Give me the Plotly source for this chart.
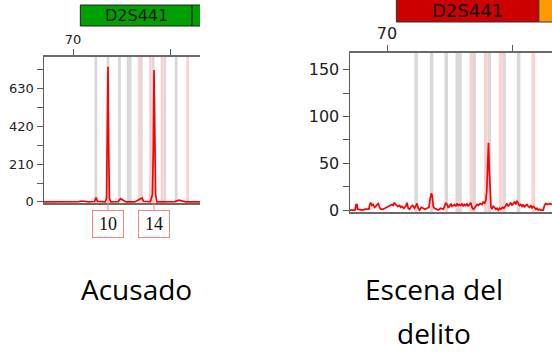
import plotly.graph_objects as go

# ---------------- data ----------------
marker_name = "D2S441"
x_ticks = [70, 80]
x_ticklabels = ["70", ""]

# suspect (Acusado) electropherogram: base pairs / RFU
acc_bp = [67.04, 70.0, 70.6, 70.9, 71.2, 71.6, 72.2, 72.35, 72.5, 73.3, 73.42, 73.5, 73.57, 73.64,
          73.72, 73.85, 74.6, 74.85, 75.1, 75.4, 76.3, 76.9, 77.05, 77.2, 77.9, 78.1, 78.2, 78.27,
          78.34, 78.43, 78.55, 80.4, 80.8, 81.1, 81.5, 82.96]
acc_rfu = [0, 0, 2, 5, 3, 0, 2, 25, 3, 0, 20, 300, 752, 300,
           20, 0, 2, 18, 8, 0, 0, 15, 22, 3, 2, 40, 300, 735,
           300, 40, 0, 2, 10, 5, 0, 0]
acc_alleles = ["10", "14"]
acc_allele_bp = [73.57, 78.27]
acc_yticks = [0, 210, 420, 630]
acc_yminor = [105, 315, 525, 735]

# crime scene (Escena del delito) electropherogram
esc_bp = [67.04, 67.45, 67.52, 67.6, 67.65, 68.0, 68.3, 68.55, 68.62, 68.7, 68.8, 68.9, 69.0, 69.1,
          69.2, 69.3, 69.4, 69.5, 69.7, 69.8, 69.95, 70.1, 70.25, 70.4, 70.5, 70.6, 70.7, 70.85,
          71.0, 71.1, 71.2, 71.35, 71.5, 71.6, 71.7, 71.8, 71.95, 72.05, 72.2, 72.3, 72.4, 72.5,
          72.6, 72.75, 72.9, 73.05, 73.2, 73.35, 73.45, 73.55, 73.62, 73.7, 73.8, 73.9, 74.1, 74.3,
          74.5, 74.6, 74.7, 74.8, 74.9, 75.0, 75.1, 75.2, 75.3, 75.4, 75.5, 75.6, 75.7, 75.8,
          75.9, 76.0, 76.1, 76.2, 76.3, 76.4, 76.5, 76.6, 76.7, 76.8, 76.9, 77.0, 77.1, 77.2,
          77.3, 77.45, 77.6, 77.7, 77.8, 77.9, 77.98, 78.05, 78.12, 78.18, 78.25, 78.32, 78.4,
          78.5, 78.6, 78.7, 78.8, 78.9, 79.0, 79.1, 79.25, 79.35, 79.5, 79.6, 79.7, 79.8, 79.9,
          80.0, 80.1, 80.2, 80.3, 80.4, 80.5, 80.6, 80.7, 80.8, 80.9, 81.0, 81.1, 81.2, 81.3,
          81.4, 81.5, 81.6, 81.7, 81.8, 81.9, 82.0, 82.1, 82.2, 82.3, 82.5, 82.6, 82.7, 82.85,
          83.0, 83.2]
esc_rfu = [0, 0, 6, 6, 1, 0, 1, 1, 6, 8, 5, 6, 3, 4,
           6, 7, 3, 1, 1, 2, 3, 4, 5, 6, 5, 8, 6, 4,
           5, 3, 4, 2, 4, 8, 2, 1, 4, 5, 2, 4, 7, 2,
           0, 3, 2, 1, 2, 3, 12, 18, 15, 4, 2, 1, 0, 2,
           1, 4, 8, 6, 3, 4, 7, 4, 5, 6, 4, 7, 5, 6,
           5, 7, 4, 6, 5, 7, 4, 6, 8, 3, 1, 2, 4, 6,
           5, 7, 6, 9, 7, 10, 20, 50, 72, 45, 12, 3, 1,
           4, 3, 1, 2, 0, 2, 1, 3, 2, 5, 7, 4, 6, 8,
           5, 7, 9, 6, 10, 7, 5, 6, 4, 6, 3, 5, 6, 4,
           3, 5, 2, 4, 3, 1, 2, 0, 1, 0, 0, 5, 7, 6,
           7, 6]
esc_yticks = [0, 50, 100, 150]
esc_yminor = [25, 75, 125]

# allele bins (bp)
gray_bins = [72.33, 73.57, 74.74, 75.62, 75.84, 76.97, 78.18, 79.37, 80.53]
pink_bins = [76.75, 77.9, 79.08, 81.7]
marker_range = [70.75, 82.15]

captions = ["Acusado", "Escena del", "delito"]

# ---------------- figure ----------------
W, H = 552, 355
def px_x(p):
    return p / W
def px_y(p):
    return 1 - p / H

fig = go.Figure()
fig.add_trace(go.Scatter(x=acc_bp, y=acc_rfu, mode="lines", line=dict(color="#ff0000", width=1.7),
                         xaxis="x", yaxis="y", hoverinfo="skip", showlegend=False))
fig.add_trace(go.Scatter(x=esc_bp, y=esc_rfu, mode="lines", line=dict(color="#ff0000", width=1.7),
                         xaxis="x2", yaxis="y2", hoverinfo="skip", showlegend=False))

axis_col = "#5a5a5a"
tick_font_l = dict(family="DejaVu Sans", size=13, color="#222")
tick_font_r = dict(family="DejaVu Sans", size=16, color="#222")

common_x = dict(side="top", showline=True, linecolor="#6a6a6a", linewidth=2, mirror=True,
                tickvals=x_ticks, ticktext=x_ticklabels, ticks="outside", ticklen=6,
                tickcolor=axis_col, showgrid=False, zeroline=False, fixedrange=True)
common_y = dict(showline=True, linecolor=axis_col, linewidth=1.5, ticks="outside", ticklen=6,
                tickcolor=axis_col, showgrid=False, zeroline=False, fixedrange=True)

L_DOM_X = [px_x(44), px_x(200)]
L_DOM_Y = [px_y(203), px_y(57)]
R_DOM_X = [px_x(350), 1]
R_DOM_Y = [px_y(212), px_y(53)]
L_RX, L_RY = [67.04, 82.96], [-6, 807]
R_RX, R_RY = [67.04, 83.2], [-2, 168]

inner = dict(showline=False, showgrid=False, zeroline=False, showticklabels=False,
             ticks="inside", ticklen=5, tickcolor=axis_col, fixedrange=True)

fig.update_layout(
    width=W, height=H, margin=dict(l=0, r=0, t=0, b=0, autoexpand=False),
    paper_bgcolor="white", plot_bgcolor="white",
    xaxis=dict(domain=L_DOM_X, range=L_RX, anchor="y", tickfont=tick_font_l, **common_x),
    yaxis=dict(domain=L_DOM_Y, range=L_RY, anchor="x", tickvals=acc_yticks, tickfont=tick_font_l,
               minor=dict(tickvals=acc_yminor, ticks="outside", ticklen=6, tickcolor=axis_col),
               **common_y),
    xaxis2=dict(domain=R_DOM_X, range=R_RX, anchor="y2", tickfont=tick_font_r, **common_x),
    yaxis2=dict(domain=R_DOM_Y, range=R_RY, anchor="x2", tickvals=esc_yticks, tickfont=tick_font_r,
                minor=dict(tickvals=esc_yminor, ticks="outside", ticklen=6, tickcolor=axis_col),
                **common_y),
    # overlay axes: inner halves of the crossing tick marks
    xaxis3=dict(overlaying="x", side="top", anchor="y", range=L_RX, tickvals=x_ticks, **inner),
    yaxis3=dict(overlaying="y", side="left", anchor="x", range=L_RY, tickvals=acc_yticks,
                minor=dict(tickvals=acc_yminor, ticks="inside", ticklen=5, tickcolor=axis_col),
                **inner),
    xaxis4=dict(overlaying="x2", side="top", anchor="y2", range=R_RX, tickvals=x_ticks, **inner),
    yaxis4=dict(overlaying="y2", side="left", anchor="x2", range=R_RY, tickvals=esc_yticks,
                minor=dict(tickvals=esc_yminor, ticks="inside", ticklen=5, tickcolor=axis_col),
                **inner),
)

shapes = []
for xr, yr in (("x", "y"), ("x2", "y2")):
    for b in gray_bins:
        shapes.append(dict(type="rect", xref=xr, yref=yr + " domain", x0=b - 0.14, x1=b + 0.14,
                           y0=0, y1=1, fillcolor="#d9d9d9", line=dict(width=0), layer="below"))
    for b in pink_bins:
        shapes.append(dict(type="rect", xref=xr, yref=yr + " domain", x0=b - 0.14, x1=b + 0.14,
                           y0=0, y1=1, fillcolor="#ffd0d0", line=dict(width=0), layer="below"))

# marker header bars
shapes.append(dict(type="rect", xref="x", yref="paper", x0=marker_range[0], x1=marker_range[1],
                   y0=px_y(26), y1=px_y(5), fillcolor="#00a000", line=dict(color="#222", width=1)))
shapes.append(dict(type="rect", xref="x", yref="paper", x0=marker_range[1], x1=marker_range[1] + 3,
                   y0=px_y(26), y1=px_y(5), fillcolor="#00a000", line=dict(color="#222", width=1)))
shapes.append(dict(type="rect", xref="x2", yref="paper", x0=marker_range[0], x1=marker_range[1],
                   y0=px_y(22), y1=px_y(-2), fillcolor="#cc0000", line=dict(color="#333", width=1)))
shapes.append(dict(type="rect", xref="x2", yref="paper", x0=marker_range[1], x1=marker_range[1] + 3,
                   y0=px_y(22), y1=px_y(-2), fillcolor="#ff9900", line=dict(color="#333", width=1)))
fig.update_layout(shapes=shapes)

mid = (marker_range[0] + marker_range[1]) / 2
annotations = [
    dict(text=marker_name, xref="x", yref="paper", x=mid, y=px_y(15.5), showarrow=False,
         xanchor="center", yanchor="middle",
         font=dict(family="DejaVu Sans", size=16, color="#111")),
    dict(text=marker_name, xref="x2", yref="paper", x=mid, y=px_y(11), showarrow=False,
         xanchor="center", yanchor="middle",
         font=dict(family="DejaVu Sans", size=18, color="#111")),
]
for lab, bp in zip(acc_alleles, acc_allele_bp):
    annotations.append(dict(text=lab, xref="x", yref="y", x=bp, y=0, showarrow=True,
                            arrowhead=0, arrowwidth=1, arrowcolor="#ff8080", ax=0, ay=22,
                            width=30, height=26, borderpad=0, bordercolor="#ff8080", borderwidth=1,
                            bgcolor="white",
                            font=dict(family="Liberation Serif", size=18, color="#111")))

cap_font = dict(family="Open Sans", size=28, color="#000")
annotations += [
    dict(text=captions[0], xref="paper", yref="paper", x=px_x(136), y=px_y(289), showarrow=False,
         xanchor="center", yanchor="middle", font=cap_font),
    dict(text=captions[1], xref="paper", yref="paper", x=px_x(434), y=px_y(289), showarrow=False,
         xanchor="center", yanchor="middle", font=cap_font),
    dict(text=captions[2], xref="paper", yref="paper", x=px_x(434), y=px_y(333), showarrow=False,
         xanchor="center", yanchor="middle", font=cap_font),
]
fig.update_layout(annotations=annotations)

fig.write_html("out.html", config={"displayModeBar": False, "staticPlot": True},
               post_script="document.body.style.margin='0';")
